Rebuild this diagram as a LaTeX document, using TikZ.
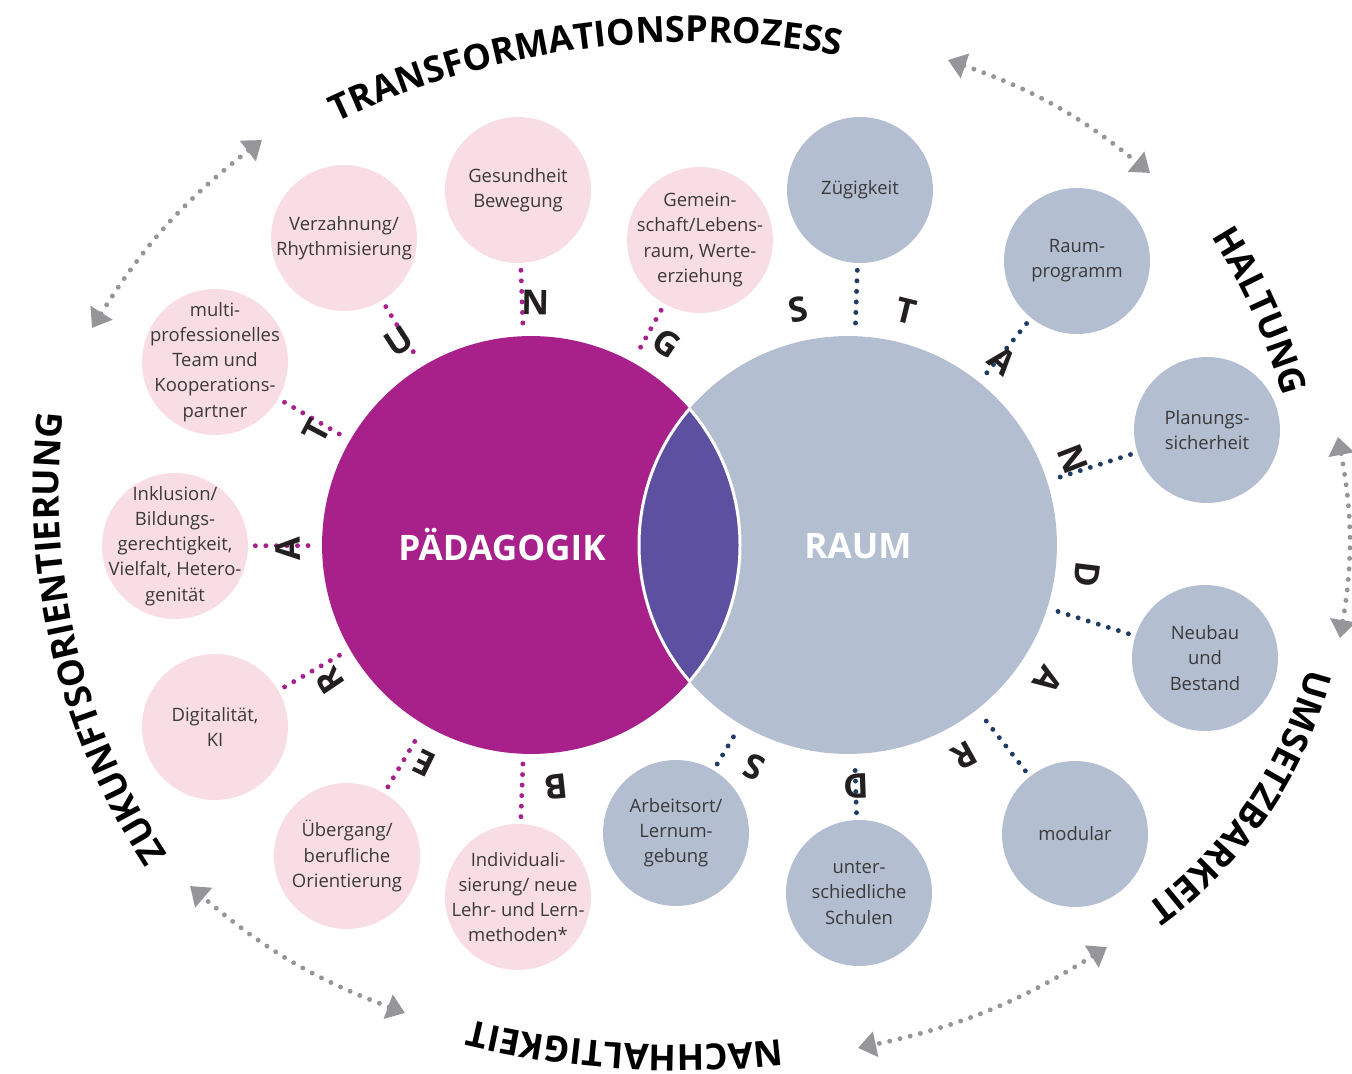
\documentclass[tikz,border=0pt]{standalone}
\usepackage{fontspec}
\setmainfont{Open Sans}
\usepackage{xcolor}
\usepackage{tikz}
\usetikzlibrary{arrows.meta, positioning, calc, decorations.text}

\definecolor{paedmagenta}{HTML}{A8208A}
\definecolor{raumblue}{HTML}{B3BED1}
\definecolor{lensviolet}{HTML}{5E50A0}
\definecolor{paedpink}{HTML}{F9DDE5}
\definecolor{dotnavy}{HTML}{1F3D63}
\definecolor{arrowgray}{HTML}{96969A}
\definecolor{labelgray}{HTML}{3A3A3A}
\definecolor{inkblack}{HTML}{231F20}

\newcommand{\titlefont}{\fontsize{20.5}{24}\selectfont\bfseries}

\begin{document}
\begin{tikzpicture}[
    x=0.02cm, y=0.02cm,
    bigcirc/.style={circle, minimum size=8.36cm, inner sep=0pt},
    % negative inner sep keeps every topic circle at the same size
    topic/.style={circle, minimum size=2.92cm, inner sep=-16pt, align=center,
                  font=\fontsize{10.5}{14.3}\selectfont, text=labelgray},
    ptopic/.style={topic, fill=paedpink},
    rtopic/.style={topic, fill=raumblue},
    biglabel/.style={font=\fontsize{20}{24}\selectfont\bfseries, text=white},
    letter/.style={font=\fontsize{19.5}{20}\selectfont\bfseries, text=inkblack,
                   inner sep=0pt},
    dotline/.style={line width=2.8pt, line cap=round, dash pattern=on 0pt off 6pt,
                    shorten <=4pt, shorten >=5pt},
    pdots/.style={dotline, paedmagenta},
    rdots/.style={dotline, dotnavy},
    cyclearrow/.style={arrowgray, line width=2.8pt, line cap=round,
                       dash pattern=on 0pt off 6pt,
                       {Triangle[length=3.6mm,width=5mm]}-{Triangle[length=3.6mm,width=5mm]}},
    arctext/.style={decorate, decoration={text along path, text align=center,
                    text={|\titlefont|#1}}}
  ]
    \useasboundingbox (0,0) rectangle (1352,1073);

    % Paedagogik and Raum
    \node[bigcirc, fill=paedmagenta] (ped) at (531,528) {};
    \node[bigcirc, fill=raumblue] (raum) at (848,528) {};

    % overlap of both circles
    \begin{scope}
      \clip (ped.center) circle[radius=209];
      \fill[lensviolet] (raum.center) circle[radius=209];
      \draw[white, line width=1.7pt] (raum.center) circle[radius=209];
    \end{scope}
    \begin{scope}
      \clip (raum.center) circle[radius=209];
      \draw[white, line width=1.7pt] (ped.center) circle[radius=209];
    \end{scope}

    \node[biglabel] (pedlabel) at (502,528) {PÄDAGOGIK};
    \node[biglabel] (raumlabel) at (858,527) {RAUM};

    % Beratung topics
    \node[ptopic] (gesund) at (518,883) {Gesundheit\\Bewegung};
    \node[ptopic] (verz) at (344,835) {Verzahnung/\\Rhythmisierung};
    \node[ptopic] (gemein) at (700,833)
      {Gemein-\\schaft/Lebens-\\raum, Werte-\\erziehung};
    \node[ptopic] (multi) at (215,711)
      {multi-\\professionelles\\Team und\\Kooperations-\\partner};
    \node[ptopic] (inkl) at (175,527)
      {Inklusion/\\Bildungs-\\gerechtigkeit,\\Vielfalt, Hetero-\\genität};
    \node[ptopic] (digital) at (215,346) {Digitalität,\\KI};
    \node[ptopic] (ueberg) at (347,217) {Übergang/\\berufliche\\Orientierung};
    \node[ptopic] (indiv) at (518,176)
      {Individuali-\\sierung/ neue\\Lehr- und Lern-\\methoden*};

    % Standards topics
    \node[rtopic] (zuegig) at (860,883) {Zügigkeit};
    \node[rtopic] (raumprog) at (1077,812) {Raum-\\programm};
    \node[rtopic] (planung) at (1207,643) {Planungs-\\sicherheit};
    \node[rtopic] (neubau) at (1205,415) {Neubau\\und\\Bestand};
    \node[rtopic] (modular) at (1075,239) {modular};
    \node[rtopic] (untersch) at (859,180) {unter-\\schiedliche\\Schulen};
    \node[rtopic] (arbeits) at (676,240) {Arbeitsort/\\Lernum-\\gebung};

    % dotted spokes
    \foreach \t in {gesund, verz, gemein, multi, inkl, digital, ueberg, indiv}
      \draw[pdots] (\t) -- (ped);
    \foreach \t in {zuegig, raumprog, planung, neubau, modular, untersch, arbeits}
      \draw[rdots] (\t) -- (raum);

    % BERATUNG
    \foreach \a/\l [count=\i] in {276/B, 244/E, 214/R, 181/A, 152/T, 123/U, 89/N, 56/G}
      \node[letter, rotate=\a-90] (be\i) at ($(ped.center)+(\a:243)$) {\l};

    % STANDARDS
    \foreach \a/\l [count=\i] in {102/S, 76/T, 50/A, 21/N, -7/D, -34/A, -61/R, -88/D, -113/S}
      \node[letter, rotate=\a-90] (st\i) at ($(raum.center)+(\a:241)$) {\l};

    % outer ring
    \path[arctext=TRANSFORMATIONSPROZESS]
      (690,213) ++(125:818) arc[start angle=125, end angle=70, radius=818];
    \path[arctext=HALTUNG]
      (700,513) ++(40:605) arc[start angle=40, end angle=8, radius=605];
    \path[arctext=UMSETZBARKEIT]
      (900,508) ++(-5:420) arc[start angle=-5, end angle=-63.5, radius=420];
    \path[arctext=NACHHALTIGKEIT]
      (680,928) ++(-75:900) arc[start angle=-75, end angle=-112, radius=900];
    \path[arctext=ZUKUNFTSORIENTIERUNG]
      (717,581) ++(222:658) arc[start angle=222, end angle=164.6, radius=658];

    % arrows between the ring labels
    \coordinate (tl1) at (92,745);
    \coordinate (tl2) at (262,933);
    \coordinate (tr1) at (948,1013);
    \coordinate (tr2) at (1150,900);
    \coordinate (r1) at (1338,636);
    \coordinate (r2) at (1340,435);
    \coordinate (br1) at (1107,126);
    \coordinate (br2) at (858,25);
    \coordinate (bl1) at (405,60);
    \coordinate (bl2) at (190,187);
    \draw[cyclearrow] (tl1) to[bend left=10] (tl2);
    \draw[cyclearrow] (tr1) to[bend left=10] (tr2);
    \draw[cyclearrow] (r1) to[bend left=10] (r2);
    \draw[cyclearrow] (br1) to[bend left=10] (br2);
    \draw[cyclearrow] (bl1) to[bend left=10] (bl2);
\end{tikzpicture}
\end{document}
